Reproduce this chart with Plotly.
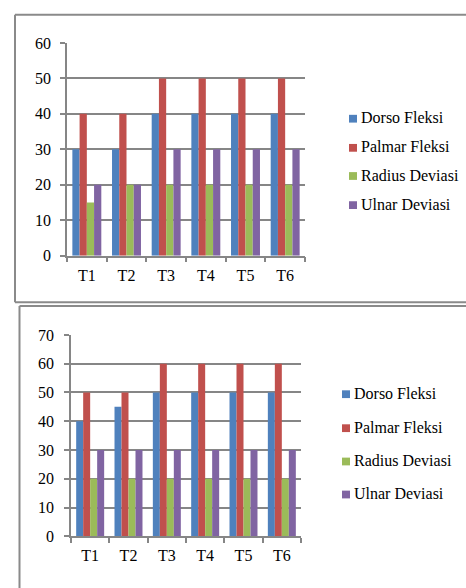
import plotly.graph_objects as go

categories = ["T1", "T2", "T3", "T4", "T5", "T6"]
series_names = ["Dorso Fleksi", "Palmar Fleksi", "Radius Deviasi", "Ulnar Deviasi"]
colors = ["#4F81BD", "#C0504D", "#9BBB59", "#8064A2"]

top_dorso = [30, 30, 40, 40, 40, 40]
top_palmar = [40, 40, 50, 50, 50, 50]
top_radius = [15, 20, 20, 20, 20, 20]
top_ulnar = [20, 20, 30, 30, 30, 30]

bot_dorso = [40, 45, 50, 50, 50, 50]
bot_palmar = [50, 50, 60, 60, 60, 60]
bot_radius = [20, 20, 20, 20, 20, 20]
bot_ulnar = [30, 30, 30, 30, 30, 30]

top_ticks = [0, 10, 20, 30, 40, 50, 60]
bot_ticks = [0, 10, 20, 30, 40, 50, 60, 70]

W, H = 466, 588
FONT = "Liberation Serif, Times New Roman, serif"
GRID = "#868686"
FS = 16

fig = go.Figure()

top_series = [top_dorso, top_palmar, top_radius, top_ulnar]
bot_series = [bot_dorso, bot_palmar, bot_radius, bot_ulnar]

for i, (name, vals) in enumerate(zip(series_names, top_series)):
    fig.add_trace(go.Bar(x=categories, y=vals, name=name, marker_color=colors[i],
                         marker_line_width=0, xaxis="x", yaxis="y", showlegend=False))
for i, (name, vals) in enumerate(zip(series_names, bot_series)):
    fig.add_trace(go.Bar(x=categories, y=vals, name=name, marker_color=colors[i],
                         marker_line_width=0, xaxis="x2", yaxis="y2", showlegend=False))

def px(x):
    return x / W

def py(y):
    return 1 - y / H

axis_common = dict(
    showline=True, linecolor=GRID, linewidth=1.5,
    ticks="outside", ticklen=5, tickcolor=GRID, tickwidth=1.5,
    tickfont=dict(family=FONT, size=FS, color="#000"),
    zeroline=False,
)

fig.update_layout(
    width=W, height=H,
    margin=dict(l=0, r=0, t=0, b=0),
    paper_bgcolor="white", plot_bgcolor="white",
    barmode="group", bargap=0.27, bargroupgap=0,
    font=dict(family=FONT, size=FS, color="#000"),
    xaxis=dict(domain=[px(67), px(305)], anchor="y", tickson="boundaries",
               showgrid=False, ticklabelstandoff=4, **axis_common),
    yaxis=dict(domain=[py(255), py(36)], anchor="x", range=[0, 60],
               tickvals=top_ticks, showgrid=True, gridcolor=GRID, gridwidth=1.5,
               ticklabelstandoff=6, **axis_common),
    xaxis2=dict(domain=[px(71), px(301)], anchor="y2", tickson="boundaries",
                showgrid=False, ticklabelstandoff=4, **axis_common),
    yaxis2=dict(domain=[py(544), py(336.7)], anchor="x2", range=[0, 70],
                tickvals=bot_ticks, showgrid=True, gridcolor=GRID, gridwidth=1.5,
                ticklabelstandoff=7, **axis_common),
    showlegend=False,
)

box = dict(type="line", xref="paper", yref="paper",
           line=dict(color="#8a8a8a", width=2))
shapes = [
    dict(box, x0=px(15), x1=px(15), y0=py(7), y1=py(303)),
    dict(box, x0=px(15), x1=1.05, y0=py(7), y1=py(7)),
    dict(box, x0=px(15), x1=1.05, y0=py(303), y1=py(303)),
    dict(box, x0=px(19.5), x1=px(19.5), y0=py(307), y1=-0.05),
    dict(box, x0=px(19.5), x1=1.05, y0=py(307), y1=py(307)),
]

annotations = []
legend_specs = [
    (349, [113, 143, 172, 202]),
    (342, [396.7, 431.7, 466, 500]),
]
for lx, ys in legend_specs:
    for i, name in enumerate(series_names):
        cy = ys[i] + 1
        shapes.append(dict(type="rect", xref="paper", yref="paper",
                           x0=px(lx), x1=px(lx + 8), y0=py(cy + 4), y1=py(cy - 4),
                           fillcolor=colors[i], line=dict(width=0)))
        annotations.append(dict(xref="paper", yref="paper", x=px(lx + 10), y=py(ys[i]),
                                xanchor="left", yanchor="middle", showarrow=False,
                                text=name, font=dict(family=FONT, size=FS, color="#000")))

fig.update_layout(shapes=shapes, annotations=annotations)

fig.write_html("out.html",
               post_script="document.body.style.margin='0px';document.body.style.overflow='hidden';",
               config={"displayModeBar": False})
